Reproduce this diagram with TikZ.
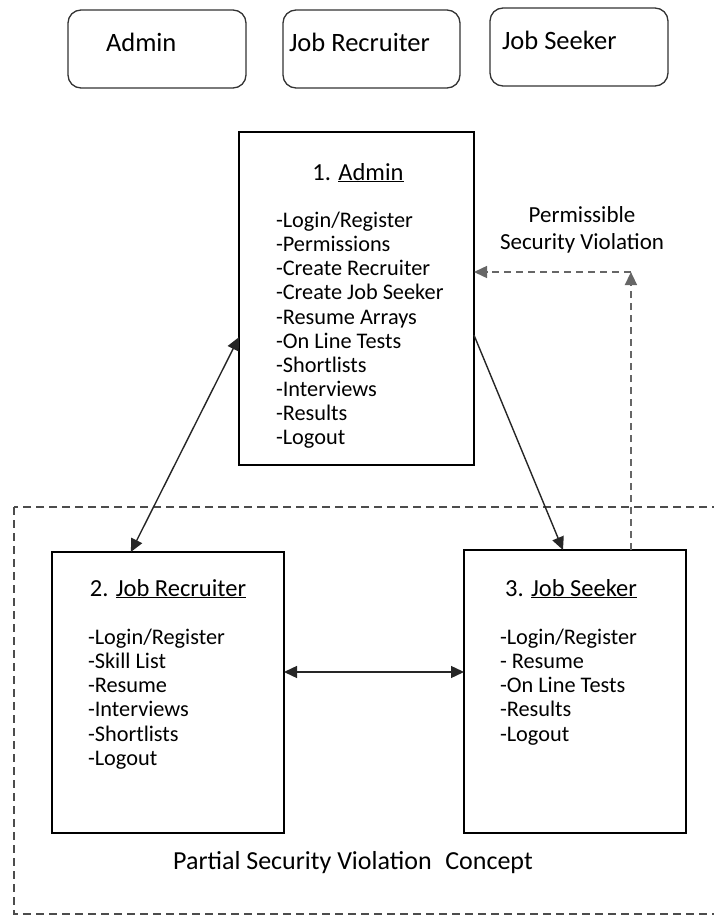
\documentclass[tikz,border=0pt]{standalone}
\usepackage{fontspec}
\setmainfont{Carlito}
\usetikzlibrary{arrows.meta,calc}
% underline sitting just under the baseline
\newcommand{\undl}[1]{\underline{\smash{#1}}}

\begin{document}
\begin{tikzpicture}[x=1pt,y=-1pt,
  every node/.style={inner sep=0pt, outer sep=0pt, text=black},
  rolebox/.style={draw=black!80, line width=1.3pt, rounded corners=13pt,
    anchor=north west},
  modbox/.style={draw=black, line width=1.5pt, anchor=north west},
  rolelabel/.style={anchor=base west, font=\fontsize{26.5}{31}\selectfont},
  title/.style={anchor=base, font=\fontsize{24.5}{29}\selectfont},
  items/.style={anchor=north west, align=left,
    font=\fontsize{22.3}{24.15}\selectfont},
  link/.style={line width=1.4pt, black!85,
    -{Triangle[length=13pt,width=12pt]}},
  twoway/.style={line width=1.4pt, black!85,
    {Triangle[length=13pt,width=12pt]}-{Triangle[length=13pt,width=12pt]}},
  violation/.style={line width=1.5pt, black!60, dash pattern=on 7pt off 5pt,
    -{Triangle[length=13pt,width=12pt]}},
  region/.style={line width=1.3pt, black!70, dash pattern=on 8pt off 5pt}]

\useasboundingbox (0,0) rectangle (714,919);
\clip (0,0) rectangle (714,919);

% role legend across the top
\node[rolebox, minimum width=178pt, minimum height=78pt] (legA) at (68,10) {};
\node[rolebox, minimum width=177pt, minimum height=78pt] (legR) at (283,10) {};
\node[rolebox, minimum width=178pt, minimum height=78pt] (legS) at (490,8) {};
\node[rolelabel] (legAt) at (106,51) {Admin};
\node[rolelabel] (legRt) at (289,51) {Job Recruiter};
\node[rolelabel] (legSt) at (502,49) {Job Seeker};

% module boxes
\node[modbox, minimum width=235pt, minimum height=333pt] (admin) at (239,132) {};
\node[modbox, minimum width=232pt, minimum height=281pt] (rec) at (52,552) {};
\node[modbox, minimum width=222pt, minimum height=283pt] (seek) at (464,550) {};

\node[title] (adminT) at (358,180) {1. \undl{Admin}};
\node[items] (adminL) at (276,212) {-Login/Register\\-Permissions\\-Create Recruiter\\-Create Job Seeker\\-Resume Arrays\\-On Line Tests\\-Shortlists\\-Interviews\\-Results\\-Logout};

\node[title] (recT) at (168,596) {2. \undl{Job Recruiter}};
\node[items] (recL) at (88,629) {-Login/Register\\-Skill List\\-Resume\\-Interviews\\-Shortlists\\-Logout};

\node[title] (seekT) at (571,596) {3. \undl{Job Seeker}};
\node[items] (seekL) at (500,629) {-Login/Register\\- Resume\\-On Line Tests\\-Results\\-Logout};

% region of partial violation
\draw[region] (14,507) rectangle (740,914);
\node[anchor=base, font=\fontsize{26}{31}\selectfont] (concept) at (353,869)
  {Partial Security Violation\hspace{0.3em} Concept};

% permissible violation label (base anchor is the last line)
\node[anchor=base, align=center, font=\fontsize{23}{27}\selectfont] (perm) at (582,249)
  {Permissible\\Security Violation};

% connectors
\draw[twoway] ($(admin.north west)!0.616!(admin.south west)$)
  -- ($(rec.north west)!0.34!(rec.north east)$);
\draw[link] ($(admin.north east)!0.61!(admin.south east)$)
  -- ($(seek.north west)!0.446!(seek.north east)$);
\coordinate (rs) at ($(rec.north east)!0.427!(rec.south east)$);
\draw[twoway] (rs) -- (seek.west |- rs);

\coordinate (pv) at ($(seek.north west)!0.752!(seek.north east)$);
\coordinate (corner) at (pv |- 0,272);
\draw[violation] (pv) -- (corner);
\draw[violation] (corner) -- (admin.east |- corner);
\end{tikzpicture}
\end{document}
